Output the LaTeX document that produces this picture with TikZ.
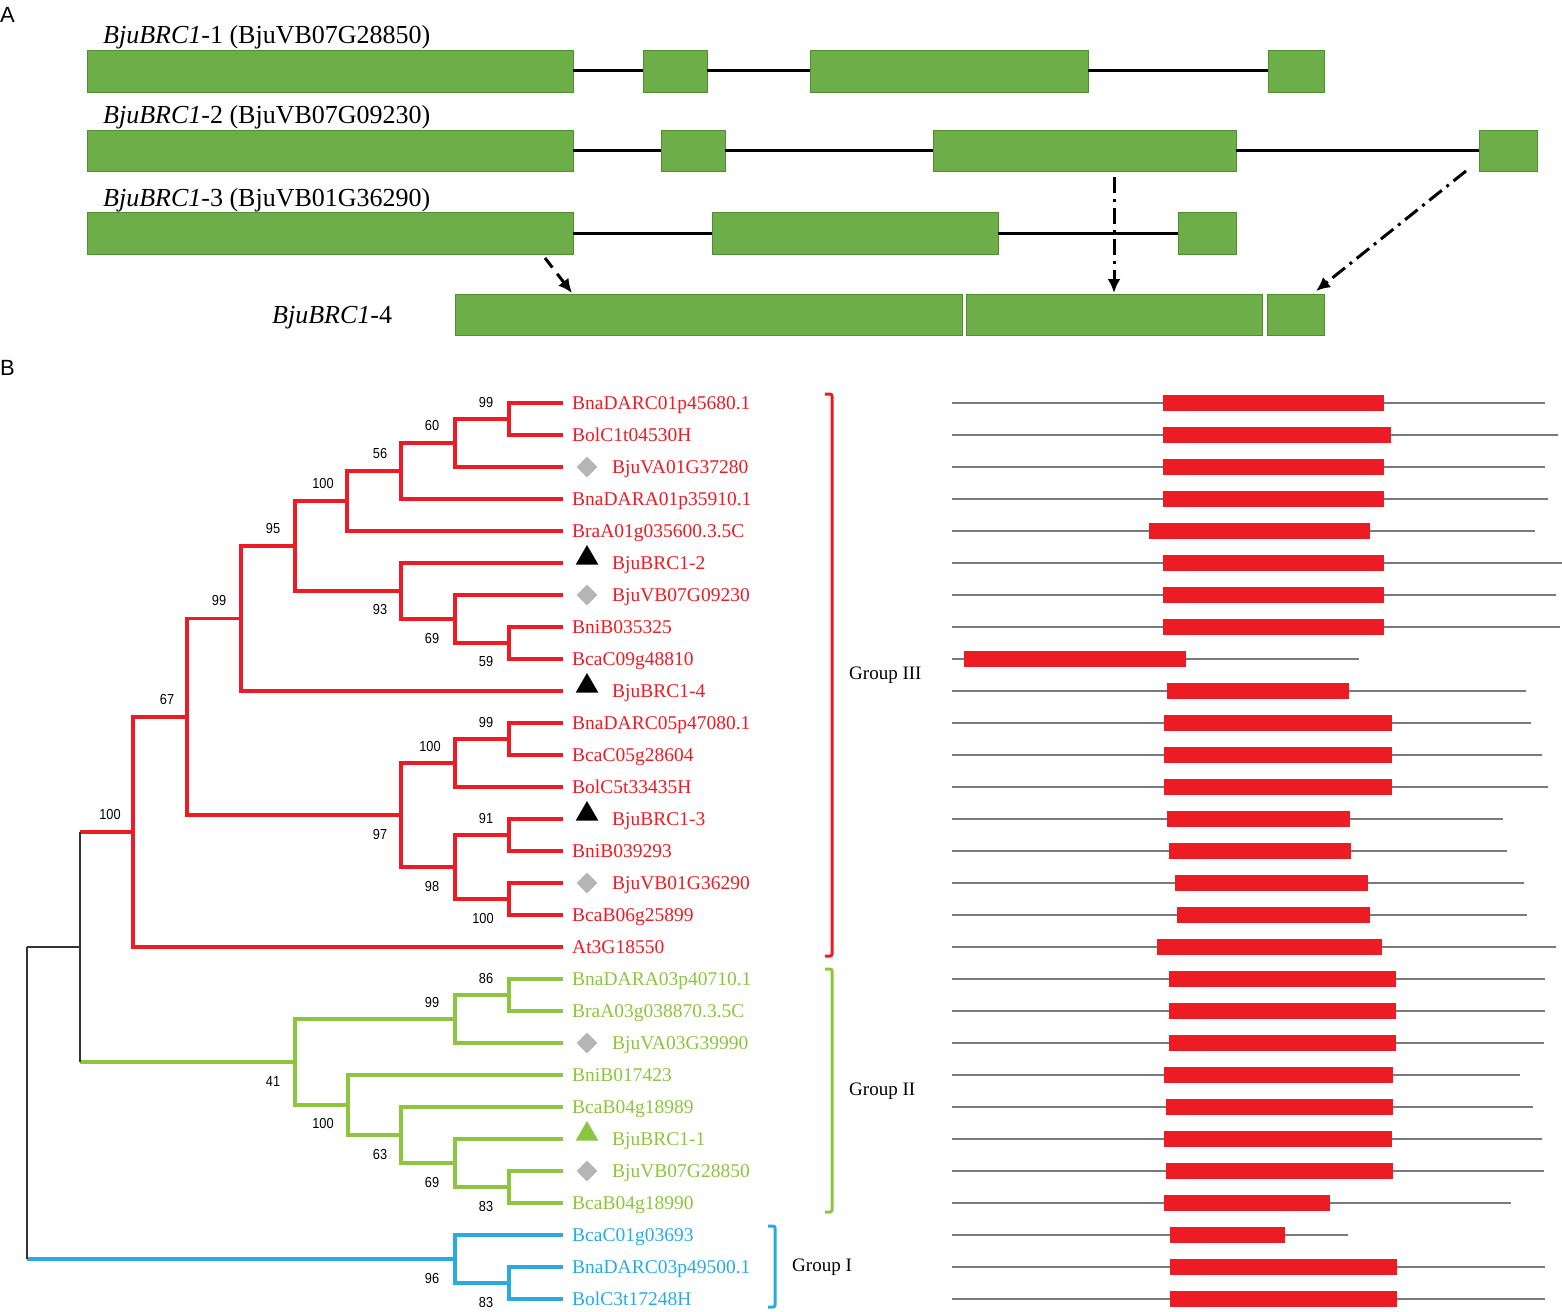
\documentclass[tikz,border=0pt]{standalone}
\usepackage{fontspec}
\setmainfont{Liberation Serif}
\newfontfamily\bsfont[FakeStretch=0.88]{Liberation Sans}
\newfontfamily\panelfont{Liberation Sans}
\usetikzlibrary{arrows.meta,calc,shapes.geometric}
\definecolor{exgreen}{HTML}{6DAE48}
\definecolor{exedge}{HTML}{4F8F32}
\definecolor{tred}{HTML}{ED1C24}
\definecolor{tgreen}{HTML}{8CC63F}
\definecolor{tblue}{HTML}{29ABE2}
\definecolor{dline}{HTML}{7A7A7A}
\definecolor{mgray}{HTML}{B5B5B5}
\definecolor{rootc}{HTML}{333333}
\begin{document}
\begin{tikzpicture}[x=1pt,y=-1pt,
  exon/.style={draw=exedge,line width=0.8pt,fill=exgreen,inner sep=0pt,rectangle},
  intron/.style={line width=3pt,black},
  genelbl/.style={anchor=base west,inner sep=0pt,font=\fontsize{26}{28}\selectfont},
  panel/.style={anchor=north west,inner sep=0pt,font=\panelfont\fontsize{22}{24}\selectfont},
  linkarrow/.style={line width=3pt,black,-{Latex[length=14pt,width=13pt]}},
  leaflbl/.style={anchor=base west,inner sep=0pt,font=\fontsize{19.5}{22}\selectfont},
  bs/.style={inner sep=0pt,font=\bsfont\fontsize{14.5}{16}\selectfont},
  rbr/.style={tred,line width=3.5pt},
  gbr/.style={tgreen,line width=3.5pt},
  bbr/.style={tblue,line width=3.5pt},
  rootbr/.style={rootc,line width=1.5pt},
  dom/.style={dline,line width=2pt},
  grplbl/.style={inner sep=0pt,font=\fontsize{19}{21}\selectfont},
  brk/.style={line width=3pt,rounded corners=2pt},
  dia/.style={diamond,aspect=1,fill=mgray,minimum width=21pt,minimum height=21pt,inner sep=0pt},
  tri/.style={regular polygon,regular polygon sides=3,minimum size=26pt,inner sep=0pt}
]
\useasboundingbox (0,0) rectangle (1562,1311);
\fill[white] (0,0) rectangle (1562,1311);

% ---------------- Panel A ----------------
\node[panel] (pA) at (0,7) {A};
\node[genelbl] (g1) at (103,44) {\textit{BjuBRC1}-1 (BjuVB07G28850)};
\node[genelbl] (g2) at (103,124) {\textit{BjuBRC1}-2 (BjuVB07G09230)};
\node[genelbl] (g3) at (103,206) {\textit{BjuBRC1}-3 (BjuVB01G36290)};
\node[genelbl] (g4) at (272,323) {\textit{BjuBRC1}-4};

\node[exon,minimum width=486pt,minimum height=42pt] (e11) at (330,71) {};
\node[exon,minimum width=64pt,minimum height=42pt] (e12) at (675,71) {};
\node[exon,minimum width=278pt,minimum height=42pt] (e13) at (949,71) {};
\node[exon,minimum width=56pt,minimum height=42pt] (e14) at (1296,71) {};
\draw[intron] (e11.east) -- (e12.west);
\draw[intron] (e12.east) -- (e13.west);
\draw[intron] (e13.east) -- (e14.west);

\node[exon,minimum width=486pt,minimum height=41pt] (e21) at (330,150.5) {};
\node[exon,minimum width=64pt,minimum height=41pt] (e22) at (693,150.5) {};
\node[exon,minimum width=303pt,minimum height=41pt] (e23) at (1084.5,150.5) {};
\node[exon,minimum width=58pt,minimum height=41pt] (e24) at (1508,150.5) {};
\draw[intron] (e21.east) -- (e22.west);
\draw[intron] (e22.east) -- (e23.west);
\draw[intron] (e23.east) -- (e24.west);

\node[exon,minimum width=486pt,minimum height=42pt] (e31) at (330,233) {};
\node[exon,minimum width=286pt,minimum height=42pt] (e32) at (855,233) {};
\node[exon,minimum width=58pt,minimum height=42pt] (e33) at (1207,233) {};
\draw[intron] (e31.east) -- (e32.west);
\draw[intron] (e32.east) -- (e33.west);

\node[exon,minimum width=507pt,minimum height=41pt] (e41) at (708.5,314.5) {};
\node[exon,minimum width=296pt,minimum height=41pt] (e42) at (1114,314.5) {};
\node[exon,minimum width=57pt,minimum height=41pt] (e43) at (1295.5,314.5) {};

\coordinate (s1) at (545,258);
\coordinate (t1) at (572,293);
\coordinate (s2) at (1114,177);
\coordinate (t2) at (1114,293);
\coordinate (s3) at (1466,171);
\coordinate (t3) at (1316,291);
\draw[linkarrow,dash pattern=on 12pt off 8pt] (s1) -- (t1);
\draw[linkarrow,dash pattern=on 16pt off 6pt on 3pt off 6pt] (s2) -- (t2);
\draw[linkarrow,dash pattern=on 16pt off 6pt on 3pt off 6pt] (s3) -- (t3);

% ---------------- Panel B ----------------
\node[panel] (pB) at (0,360) {B};

% leaves
\foreach \i in {0,...,28} {\coordinate (L\i) at (563,{403+32*\i});}
\foreach \i/\nm/\col/\tx in {
 0/BnaDARC01p45680.1/tred/572, 1/BolC1t04530H/tred/572, 2/BjuVA01G37280/tred/612,
 3/BnaDARA01p35910.1/tred/572, 4/BraA01g035600.3.5C/tred/572, 5/BjuBRC1-2/tred/612,
 6/BjuVB07G09230/tred/612, 7/BniB035325/tred/572, 8/BcaC09g48810/tred/572,
 9/BjuBRC1-4/tred/612, 10/BnaDARC05p47080.1/tred/572, 11/BcaC05g28604/tred/572,
 12/BolC5t33435H/tred/572, 13/BjuBRC1-3/tred/612, 14/BniB039293/tred/572,
 15/BjuVB01G36290/tred/612, 16/BcaB06g25899/tred/572, 17/At3G18550/tred/572,
 18/BnaDARA03p40710.1/tgreen/572, 19/BraA03g038870.3.5C/tgreen/572, 20/BjuVA03G39990/tgreen/612,
 21/BniB017423/tgreen/572, 22/BcaB04g18989/tgreen/572, 23/BjuBRC1-1/tgreen/612,
 24/BjuVB07G28850/tgreen/612, 25/BcaB04g18990/tgreen/572,
 26/BcaC01g03693/tblue/572, 27/BnaDARC03p49500.1/tblue/572, 28/BolC3t17248H/tblue/572}
 {\node[leaflbl,text=\col] (T\i) at (\tx,{403+32*\i+6.5}) {\nm};}

% markers
\foreach \i in {2,6,15,20,24} {\node[dia] (M\i) at (587,{403+32*\i}) {};}
\foreach \i in {5,9,13} {\node[tri,fill=black] (M\i) at (587,{403+32*\i-5}) {};}
\node[tri,fill=tgreen] (M23) at (587,{403+32*23-5}) {};

% internal nodes
\coordinate (a1) at (509,419);
\coordinate (a2) at (455,443);
\coordinate (a3) at (401,471);
\coordinate (a4) at (347,501);
\coordinate (b1) at (509,643);
\coordinate (b2) at (455,619);
\coordinate (b3) at (401,591);
\coordinate (a5) at (295,546);
\coordinate (a6) at (241,618.5);
\coordinate (c1) at (509,739);
\coordinate (c2) at (455,763);
\coordinate (c3) at (509,835);
\coordinate (c4) at (509,899);
\coordinate (c5) at (455,867);
\coordinate (c6) at (401,815);
\coordinate (a7) at (187,716.75);
\coordinate (a8) at (133,831.9);
\coordinate (g1) at (509,995);
\coordinate (g2) at (455,1019);
\coordinate (gg3) at (509,1187);
\coordinate (gg4) at (455,1163);
\coordinate (gg5) at (401,1135);
\coordinate (gg6) at (348,1105);
\coordinate (gg7) at (295,1062);
\coordinate (h1) at (509,1283);
\coordinate (h2) at (455,1259);
\coordinate (r1) at (80,946.9);
\coordinate (r0) at (27,1103);

\foreach \p/\c in {a1/L0,a1/L1,a2/a1,a2/L2,a3/a2,a3/L3,a4/a3,a4/L4,
  b1/L7,b1/L8,b2/L6,b2/b1,b3/L5,b3/b2,a5/a4,a5/b3,a6/a5,a6/L9,
  c1/L10,c1/L11,c2/c1,c2/L12,c3/L13,c3/L14,c4/L15,c4/L16,c5/c3,c5/c4,
  c6/c2,c6/c5,a7/a6,a7/c6,a8/a7,a8/L17}
  {\draw[rbr] (\p) |- (\c);}
\foreach \p/\c in {g1/L18,g1/L19,g2/g1,g2/L20,gg3/L24,gg3/L25,gg4/L23,gg4/gg3,
  gg5/L22,gg5/gg4,gg6/L21,gg6/gg5,gg7/g2,gg7/gg6}
  {\draw[gbr] (\p) |- (\c);}
\foreach \p/\c in {h1/L27,h1/L28,h2/L26,h2/h1}
  {\draw[bbr] (\p) |- (\c);}

% root branches
\draw[rbr] (r1 |- a8) -- (a8);
\draw[gbr] (r1 |- gg7) -- (gg7);
\draw[rootbr] (r1 |- a8) -- (r1 |- gg7);
\draw[bbr] (r0 |- h2) -- (h2);
\draw[rootbr] (r0 |- r1) -- (r1);
\draw[rootbr] (r0 |- r1) -- (r0 |- h2);

% bootstrap values
\node[bs] (v1) at (486,403) {99};
\node[bs] (v2) at (432,426) {60};
\node[bs] (v3) at (380,454) {56};
\node[bs] (v4) at (323,484) {100};
\node[bs] (v5) at (273,529) {95};
\node[bs] (v6) at (219,601) {99};
\node[bs] (v7) at (380,610) {93};
\node[bs] (v8) at (432,638) {69};
\node[bs] (v9) at (486,662) {59};
\node[bs] (v10) at (167,699) {67};
\node[bs] (v11) at (486,722) {99};
\node[bs] (v12) at (430,746) {100};
\node[bs] (v13) at (486,818) {91};
\node[bs] (v14) at (380,834) {97};
\node[bs] (v15) at (432,886) {98};
\node[bs] (v16) at (483,918) {100};
\node[bs] (v17) at (110,814) {100};
\node[bs] (v18) at (486,978) {86};
\node[bs] (v19) at (432,1002) {99};
\node[bs] (v20) at (273,1081) {41};
\node[bs] (v21) at (323,1123) {100};
\node[bs] (v22) at (380,1154) {63};
\node[bs] (v23) at (432,1182) {69};
\node[bs] (v24) at (486,1206) {83};
\node[bs] (v25) at (432,1278) {96};
\node[bs] (v26) at (486,1302) {83};

% group brackets
\draw[brk,tred] (825,394) -- (832,394) -- (832,956) -- (825,956);
\draw[brk,tgreen] (825,969) -- (832,969) -- (832,1212) -- (825,1212);
\draw[brk,tblue] (768,1226) -- (775,1226) -- (775,1307) -- (768,1307);
\node[grplbl,anchor=west] (G3) at (849,675) {Group III};
\node[grplbl,anchor=west] (G2) at (849,1091) {Group II};
\node[grplbl,anchor=west] (G1) at (792,1267) {Group I};

% domain structures
\foreach \i/\bb/\be/\le in {
 0/1163/1384/1545, 1/1163/1391/1558, 2/1163/1384/1545, 3/1163/1384/1548,
 4/1149/1370/1535, 5/1163/1384/1562, 6/1163/1384/1556, 7/1163/1384/1560,
 8/964/1186/1359, 9/1167/1349/1526, 10/1164/1392/1531, 11/1164/1392/1542,
 12/1164/1392/1548, 13/1167/1350/1503, 14/1169/1351/1507, 15/1175/1368/1524,
 16/1177/1370/1527, 17/1157/1382/1556, 18/1169/1396/1545, 19/1169/1396/1545,
 20/1169/1396/1544, 21/1164/1393/1520, 22/1166/1393/1533, 23/1164/1392/1542,
 24/1166/1393/1544, 25/1164/1330/1511, 26/1170/1285/1348, 27/1170/1397/1545,
 28/1170/1397/1545}
 {\draw[dom] (952,{403+32*\i}) -- (\le,{403+32*\i});
  \fill[tred] (\bb,{403+32*\i-8}) rectangle (\be,{403+32*\i+8});}
\end{tikzpicture}
\end{document}
